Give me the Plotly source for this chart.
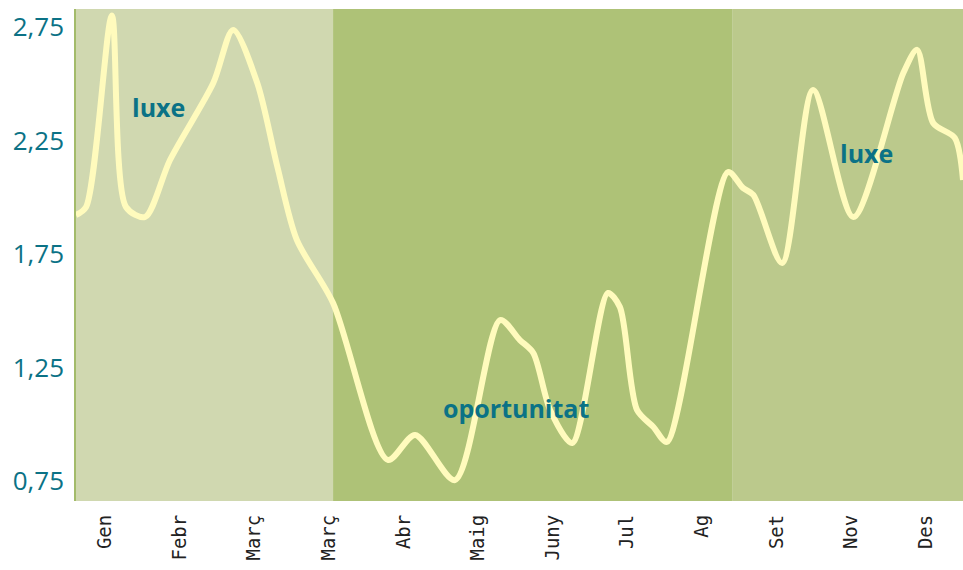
import plotly.graph_objects as go

# x in month units (0 = Gen ... 11 = Des)
x_vals = [-0.39, -0.255, 0.09, 0.28, 0.536, 0.87, 1.45, 1.716, 2.04, 2.31, 2.57, 3.056,
          3.79, 4.155, 4.69, 5.295, 5.56, 5.74, 5.965, 6.26, 6.74, 6.90, 7.13, 7.35,
          7.53, 8.35, 8.55, 8.69, 9.075, 9.49, 10.03, 10.70, 10.885, 11.1, 11.39, 11.5]
y_vals = [1.922, 1.957, 2.80, 1.957, 1.913, 2.164, 2.503, 2.737, 2.503, 2.133, 1.812, 1.534,
          0.843, 0.953, 0.754, 1.459, 1.371, 1.314, 1.063, 0.917, 1.578, 1.517, 1.063, 0.988,
          0.922, 2.111, 2.041, 2.01, 1.71, 2.472, 1.913, 2.547, 2.649, 2.327, 2.261, 2.076]

month_labels = ["Gen", "Febr", "Març", "Març", "Abr", "Maig", "Juny", "Jul", "Ag", "Set", "Nov", "Des"]
month_pos = list(range(12))

y_ticks = [0.75, 1.25, 1.75, 2.25, 2.75]

band_starts = [-0.39, 3.056, 8.405]
band_ends = [3.056, 8.405, 11.5]
band_colors = ["#d0d8b0", "#aec277", "#bbc98c"]

label_texts = ["luxe", "oportunitat", "luxe"]
label_x = [0.72, 5.51, 10.2]
label_y = [2.398, 1.072, 2.195]

fig = go.Figure()
fig.add_trace(go.Scatter(
    x=x_vals, y=y_vals, mode="lines",
    line=dict(color="#fffbbd", width=6, shape="spline", smoothing=0.8),
    hoverinfo="skip", showlegend=False,
))

shapes = []
for s, e, c in zip(band_starts, band_ends, band_colors):
    shapes.append(dict(type="rect", xref="x", yref="paper", x0=s, x1=e, y0=0, y1=1,
                       fillcolor=c, line=dict(width=0), layer="below"))

annotations = []
for t, xx, yy in zip(label_texts, label_x, label_y):
    annotations.append(dict(x=xx, y=yy, xref="x", yref="y", text="<b>%s</b>" % t,
                            showarrow=False, font=dict(family="Open Sans", size=25, color="#0b7286")))

fig.update_layout(
    width=963, height=570,
    margin=dict(l=76, r=0, t=9, b=69),
    paper_bgcolor="white", plot_bgcolor="white",
    separators=",.",
    shapes=shapes, annotations=annotations,
    xaxis=dict(range=[-0.39, 11.5], tickvals=month_pos, ticktext=month_labels,
               tickangle=-90, showgrid=False, zeroline=False, showline=False, automargin=False,
               ticks="", ticklabelstandoff=9,
               tickfont=dict(family="DejaVu Sans Mono", size=19, color="#222222")),
    yaxis=dict(range=[0.662, 2.829], tickvals=y_ticks, tickformat=".2f", automargin=False,
               showgrid=False, zeroline=False, showline=True, linecolor="#a3bb6a", linewidth=1.5,
               ticks="", ticklabelstandoff=5,
               tickfont=dict(family="Open Sans", size=26, color="#0b7286")),
)

fig.write_html("out.html", config={"displayModeBar": False},
               post_script="document.body.style.margin='0';document.body.style.overflow='hidden';")
